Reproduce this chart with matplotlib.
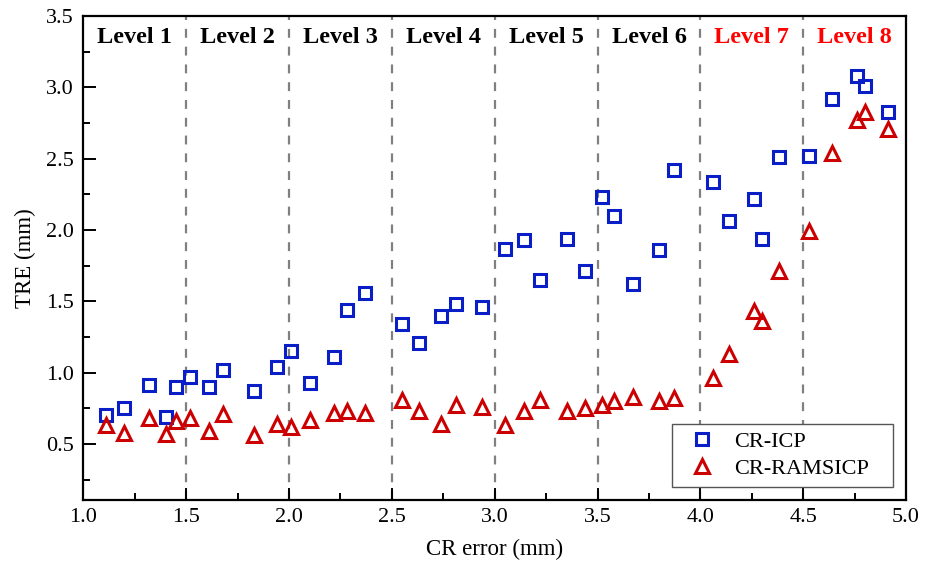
import matplotlib.pyplot as plt
import numpy as np

plt.rcParams['font.family'] = ['Liberation Serif', 'DejaVu Serif']

# CR error (mm), shared by both methods
cr_error = [1.11, 1.20, 1.32, 1.40, 1.45, 1.52, 1.61, 1.68, 1.83, 1.94, 2.01,
            2.10, 2.22, 2.28, 2.37, 2.55, 2.63, 2.74, 2.81, 2.94,
            3.05, 3.14, 3.22, 3.35, 3.44, 3.52, 3.58, 3.67, 3.80, 3.87,
            4.06, 4.14, 4.26, 4.30, 4.38, 4.53, 4.64, 4.76, 4.80, 4.91]
tre_icp = [0.70, 0.75, 0.91, 0.69, 0.90, 0.97, 0.90, 1.02, 0.87, 1.04, 1.15,
           0.93, 1.11, 1.44, 1.56, 1.34, 1.21, 1.40, 1.48, 1.46,
           1.87, 1.93, 1.65, 1.94, 1.71, 2.23, 2.10, 1.62, 1.86, 2.42,
           2.34, 2.06, 2.22, 1.94, 2.51, 2.52, 2.92, 3.08, 3.01, 2.83]
tre_ramsicp = [0.63, 0.58, 0.68, 0.57, 0.66, 0.68, 0.59, 0.71, 0.56, 0.64, 0.62,
               0.67, 0.72, 0.73, 0.72, 0.81, 0.73, 0.64, 0.77, 0.76,
               0.63, 0.73, 0.81, 0.73, 0.75, 0.77, 0.80, 0.83, 0.80, 0.82,
               0.96, 1.13, 1.43, 1.36, 1.71, 1.99, 2.54, 2.77, 2.83, 2.71]

levels = ['Level 1', 'Level 2', 'Level 3', 'Level 4',
          'Level 5', 'Level 6', 'Level 7', 'Level 8']
level_colors = ['black'] * 6 + ['#ff0000'] * 2
boundaries = [1.5, 2.0, 2.5, 3.0, 3.5, 4.0, 4.5]

fig = plt.figure(figsize=(9.35, 5.64), dpi=100)
ax = fig.add_axes([0.0891, 0.1135, 0.880, 0.858])

# level separators
for b in boundaries:
    ax.axvline(b, color='#808080', linestyle=(0, (4, 4)), linewidth=1.6, zorder=1)

ax.plot(cr_error, tre_icp, linestyle='none', marker='s', markersize=8.5,
        markerfacecolor='none', markeredgecolor='#0a1ec8', markeredgewidth=2.2,
        label='CR-ICP', zorder=3)
ax.plot(cr_error, tre_ramsicp, linestyle='none', marker='^', markersize=10,
        markerfacecolor='none', markeredgecolor='#cc0000', markeredgewidth=2.2,
        label='CR-RAMSICP', zorder=3)

# level labels
for i, (name, col) in enumerate(zip(levels, level_colors)):
    ax.text(1.25 + 0.5 * i, 3.35, name, color=col, fontsize=17.5, fontweight='bold',
            ha='center', va='center')

ax.set_xlim(1.0, 5.0)
ax.set_ylim(0.107, 3.5)
ax.set_xticks(np.arange(1.0, 5.01, 0.5))
ax.set_xticks(np.arange(1.0, 5.01, 0.25), minor=True)
ax.set_yticks(np.arange(0.5, 3.51, 0.5))
ax.set_yticks(np.arange(0.25, 3.51, 0.25), minor=True)
ax.xaxis.set_major_formatter(plt.FormatStrFormatter('%.1f'))
ax.yaxis.set_major_formatter(plt.FormatStrFormatter('%.1f'))
ax.tick_params(which='both', direction='in', labelsize=16, width=1.4)
ax.tick_params(which='major', length=9)
ax.tick_params(which='minor', length=5)
ax.tick_params(axis='x', which='major', pad=6)
ax.tick_params(axis='y', which='major', pad=7)
for s in ax.spines.values():
    s.set_linewidth(1.6)

ax.set_xlabel('CR error (mm)', fontsize=16.5, labelpad=8)
ax.set_ylabel('TRE (mm)', fontsize=16.5, labelpad=7)

leg = ax.legend(loc='lower left', bbox_to_anchor=(0.7156, 0.027, 0.2686, 0.13),
                mode='expand', fontsize=16, fancybox=False, framealpha=1,
                edgecolor='#555555', borderpad=0.35, labelspacing=0.3,
                handletextpad=0.45, handlelength=2.0, borderaxespad=0)
leg.get_frame().set_linewidth(1.0)

fig.savefig('out.png', dpi=100)
